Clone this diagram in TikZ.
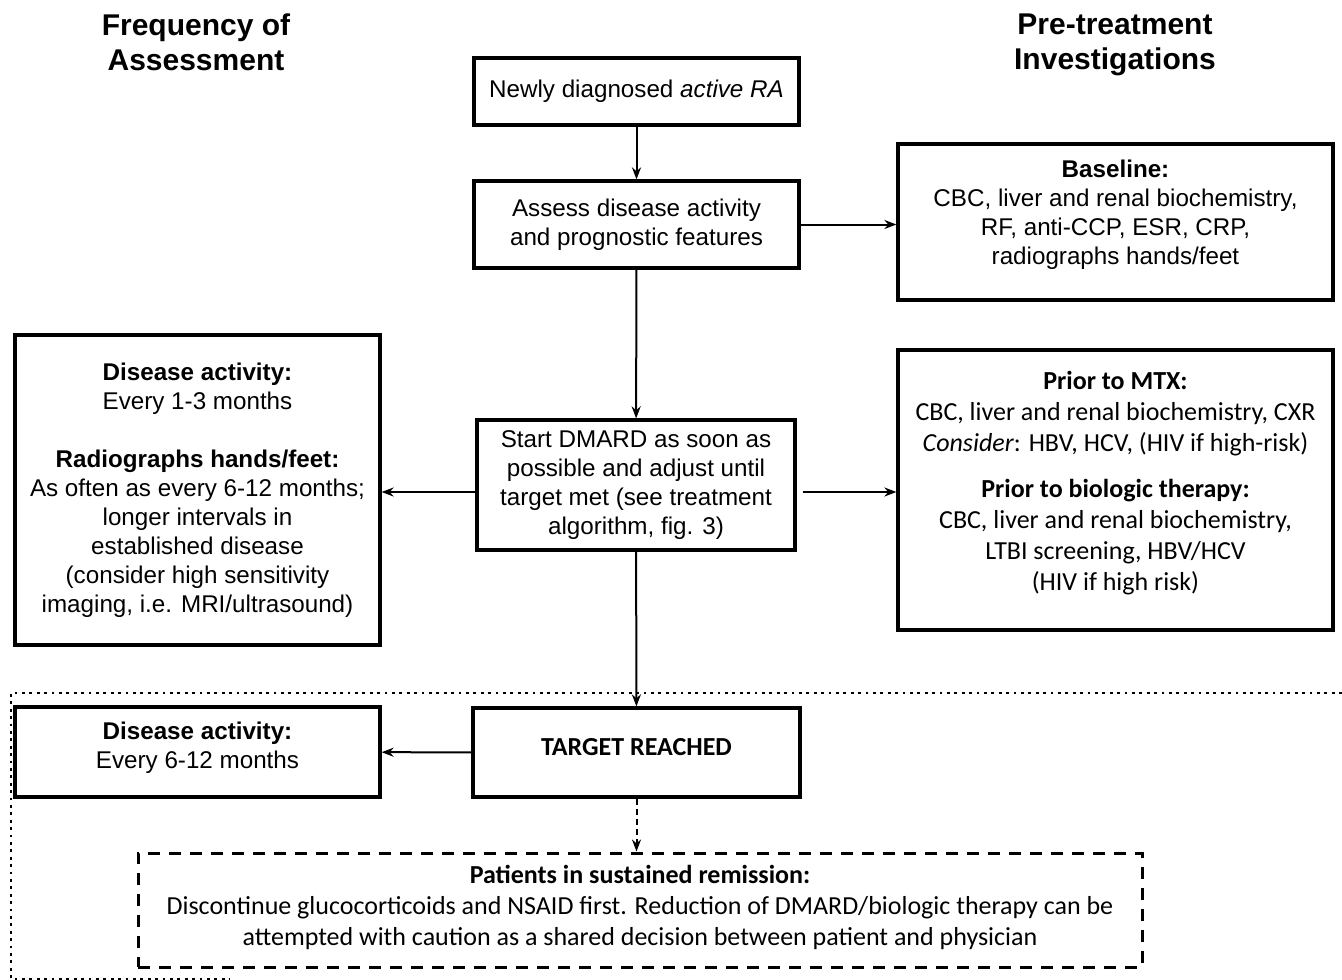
\documentclass[tikz,border=0pt]{standalone}
\usepackage{fontspec}
\setmainfont{Liberation Sans}
\newfontfamily\calfont{Carlito}
\usetikzlibrary{arrows.meta}

\tikzset{
  box/.style={draw, line width=3.2pt, align=center, inner sep=0pt},
  arial/.style={font=\fontsize{24.2}{29}\selectfont},
  calib/.style={font=\calfont\fontsize{26}{31}\selectfont},
  head/.style={font=\bfseries\fontsize{30}{35}\selectfont, align=center},
  flow/.style={line width=2pt, ->},
}

\begin{document}
\begin{tikzpicture}[x=1pt,y=-1pt,>={Stealth[length=12pt,width=9pt]}]
    \useasboundingbox (0,0) rectangle (1342,980);

    % headings
    \node[head] (hleft) at (196,42) {Frequency of\\Assessment};
    \node[head] (hright) at (1115,45) {Pre-treatment\\Investigations};

    % centre column
    \node[box,arial,minimum width=325pt,minimum height=67pt] (new) at (636.5,91.5) {Newly diagnosed \textit{active RA}};
    \node[box,arial,minimum width=325pt,minimum height=87pt] (assess) at (636.5,224.5) {Assess disease activity\\and prognostic features};
    \node[box,arial,minimum width=318pt,minimum height=130pt] (dmard) at (636,485) {Start DMARD as soon as\\possible and adjust until\\target met (see treatment\\algorithm, fig. 3)};
    \node[box,minimum width=327pt,minimum height=89pt,font=\calfont\bfseries\fontsize{26}{31}\selectfont] (target) at (636.5,752.5) {TARGET REACHED\\[-20pt]};

    % right column
    \node[box,arial,minimum width=435pt,minimum height=156pt] (base) at (1115.5,222) {\textbf{Baseline:}\\CBC, liver and renal biochemistry,\\RF, anti-CCP, ESR, CRP,\\radiographs hands/feet\\[-10pt]};
    \node[box,calib,minimum width=435pt,minimum height=280pt] (mtx) at (1115.5,490) {\textbf{Prior to MTX:}\\CBC, liver and renal biochemistry, CXR\\\textit{Consider}: HBV, HCV, (HIV if high-risk)\\[15pt]\textbf{Prior to biologic therapy:}\\CBC, liver and renal biochemistry,\\LTBI screening, HBV/HCV\\(HIV if high risk)\\[-12pt]};

    % left column
    \node[box,arial,minimum width=365pt,minimum height=310pt] (freq) at (197.5,490) {\textbf{Disease activity:}\\Every 1-3 months\\[29pt]\textbf{Radiographs hands/feet:}\\As often as every 6-12 months;\\longer intervals in\\established disease\\(consider high sensitivity\\imaging, i.e. MRI/ultrasound)};
    \node[box,arial,minimum width=365pt,minimum height=90pt] (act) at (197.5,752) {\textbf{Disease activity:}\\Every 6-12 months\\[-15pt]};

    % remission
    \node[box,calib,line width=3pt,dash pattern=on 12pt off 9pt,minimum width=1004pt,minimum height=114pt] (remit) at (640,910) {\textbf{Patients in sustained remission:}\\Discontinue glucocorticoids and NSAID first. Reduction of DMARD/biologic therapy can be\\attempted with caution as a shared decision between patient and physician\\[-22pt]};

    % maintenance phase
    \draw[line width=2.2pt, dash pattern=on 2.8pt off 4.6pt] (1342,693) -- (11,693) -- (11,979) -- (230,979);

    % connectors
    \draw[flow] (new) -- (assess);
    \draw[flow] (assess) -- (dmard);
    \draw[flow] (assess.east) -- (assess.east -| base.west);
    \draw[flow] ([yshift=-7pt]dmard.west) -- ([yshift=-7pt]dmard.west -| freq.east);
    \draw[flow] ([xshift=6pt,yshift=-7pt]dmard.east) -- ([yshift=-7pt]dmard.east -| mtx.west);
    \draw[flow] (dmard) -- (target);
    \draw[flow] (target) -- (act);
    \draw[flow, dash pattern=on 6pt off 4pt] (target.south) -- (target.south |- remit.north);
\end{tikzpicture}
\end{document}
